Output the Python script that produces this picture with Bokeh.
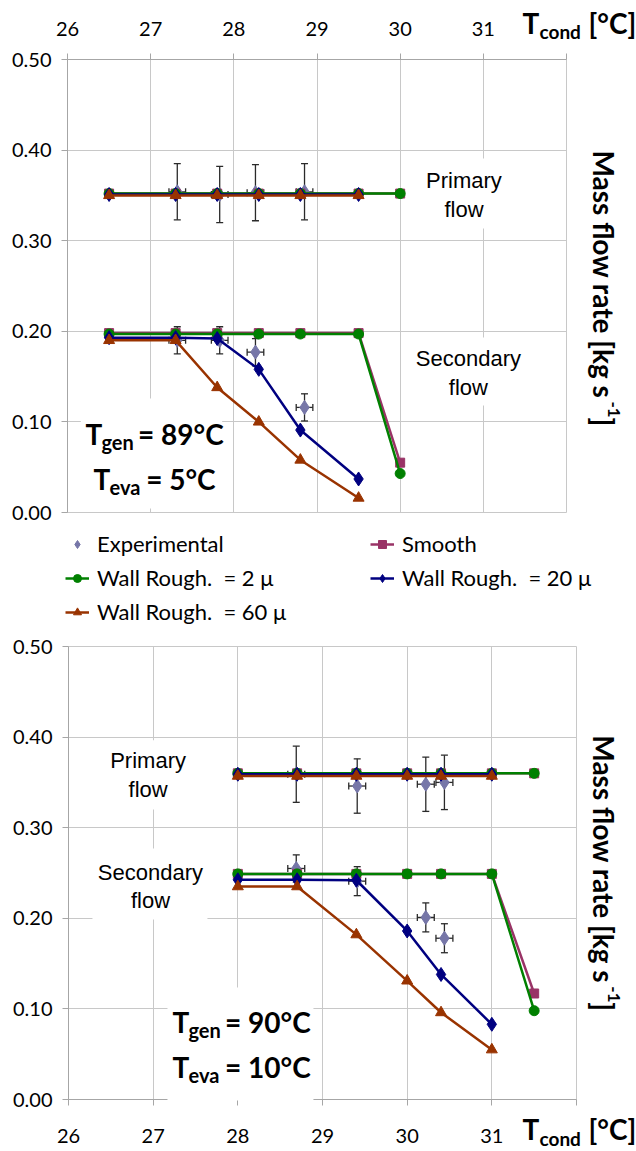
import math
from bokeh.plotting import figure
from bokeh.models import (Label, BoxAnnotation, Legend, LegendItem, FixedTicker, Range1d,
                          NumeralTickFormatter, ColumnDataSource, Grid)
from bokeh.layouts import column
from bokeh.embed import file_html
from bokeh.resources import INLINE

# ---------------- data : upper panel (T_gen = 89 °C, T_eva = 5 °C) ----------------
top_t_cond = [26.5, 27.3, 27.8, 28.3, 28.8, 29.5, 30.0]
top_primary_smooth = [0.352, 0.352, 0.352, 0.352, 0.352, 0.352, 0.352]
top_primary_wall2 = [0.352, 0.352, 0.352, 0.352, 0.352, 0.352, 0.352]
top_primary_wall20 = [0.351, 0.351, 0.351, 0.351, 0.351, 0.351]
top_primary_wall60 = [0.350, 0.350, 0.350, 0.350, 0.350, 0.350]
top_secondary_smooth = [0.198, 0.198, 0.198, 0.198, 0.198, 0.198, 0.055]
top_secondary_wall2 = [0.197, 0.197, 0.197, 0.197, 0.197, 0.197, 0.043]
top_secondary_wall20 = [0.193, 0.193, 0.192, 0.158, 0.091, 0.037]
top_secondary_wall60 = [0.190, 0.190, 0.138, 0.100, 0.058, 0.016]
top_exp_t = [27.32, 27.83, 28.26, 28.85]
top_exp_primary = [0.354, 0.351, 0.353, 0.354]
top_exp_secondary = [0.190, 0.190, 0.177, 0.116]
top_exp_primary_err = [0.031, 0.031, 0.031, 0.031]
top_exp_secondary_err = [0.015, 0.015, 0.015, 0.015]
top_exp_t_err = [0.1, 0.1, 0.1, 0.1]

# ---------------- data : lower panel (T_gen = 90 °C, T_eva = 10 °C) ----------------
bot_t_cond = [28.0, 28.7, 29.4, 30.0, 30.4, 31.0, 31.5]
bot_primary_smooth = [0.360, 0.360, 0.360, 0.360, 0.360, 0.360, 0.360]
bot_primary_wall2 = [0.360, 0.360, 0.360, 0.360, 0.360, 0.360, 0.360]
bot_primary_wall20 = [0.359, 0.359, 0.359, 0.359, 0.359, 0.359]
bot_primary_wall60 = [0.357, 0.357, 0.357, 0.357, 0.357, 0.357]
bot_secondary_smooth = [0.249, 0.249, 0.249, 0.249, 0.249, 0.249, 0.117]
bot_secondary_wall2 = [0.249, 0.249, 0.249, 0.249, 0.249, 0.249, 0.098]
bot_secondary_wall20 = [0.2425, 0.2425, 0.242, 0.186, 0.138, 0.083]
bot_secondary_wall60 = [0.235, 0.235, 0.182, 0.131, 0.096, 0.055]
bot_exp_t = [28.69, 29.41, 30.22, 30.44]
bot_exp_primary = [0.359, 0.346, 0.348, 0.350]
bot_exp_secondary = [0.255, 0.241, 0.201, 0.178]
bot_exp_primary_err = [0.031, 0.030, 0.030, 0.030]
bot_exp_secondary_err = [0.015, 0.016, 0.016, 0.016]
bot_exp_t_err = [0.1, 0.1, 0.1, 0.1]

# ---------------- axes ----------------
x_ticks = [26, 27, 28, 29, 30, 31, 32]
y_ticks = [0.0, 0.1, 0.2, 0.3, 0.4, 0.5]
X_BOUNDS = (26, 32)
Y_BOUNDS = (0.0, 0.5)

legend_labels = ["Experimental", "Smooth", "Wall Rough.\u00a0 = 2 \u03bc",
                 "Wall Rough.\u00a0 = 20 \u03bc", "Wall Rough.\u00a0 = 60 \u03bc"]

COL_EXP = "#7676A8"
COL_SMOOTH = "#993366"
COL_W2 = "#008000"
COL_W20 = "#000080"
COL_W60 = "#993300"
GRID = "#C8C8C8"
AXIS = "#A6A6A6"
FONT = "Lato"
HAS_CROSS = "cross_bounds" in Grid.properties()


def style(p, x_standoff):
    p.background_fill_color = "white"
    p.border_fill_color = "white"
    p.outline_line_color = None
    p.min_border = 0
    p.xaxis.fixed_location = Y_BOUNDS[1] if x_standoff < 0 else Y_BOUNDS[0]
    p.yaxis.fixed_location = X_BOUNDS[0]
    p.xaxis.bounds = X_BOUNDS
    p.yaxis.bounds = Y_BOUNDS
    p.xaxis.ticker = FixedTicker(ticks=x_ticks)
    p.yaxis.ticker = FixedTicker(ticks=y_ticks)
    p.yaxis.formatter = NumeralTickFormatter(format="0.00")
    p.xaxis.major_label_overrides = {32: ""}
    for ax in list(p.xaxis) + list(p.yaxis):
        ax.axis_line_color = AXIS
        ax.major_tick_line_color = AXIS
        ax.major_tick_out = 6
        ax.major_tick_in = 0
        ax.minor_tick_line_color = None
        ax.major_label_text_font = FONT
        ax.major_label_text_font_size = "20px"
        ax.major_label_text_color = "black"
    p.yaxis.major_label_standoff = 10
    p.xaxis.major_label_standoff = abs(x_standoff)
    if HAS_CROSS:
        p.xgrid.bounds = X_BOUNDS
        p.xgrid.cross_bounds = Y_BOUNDS
        p.ygrid.bounds = Y_BOUNDS
        p.ygrid.cross_bounds = X_BOUNDS
        p.xgrid.ticker = FixedTicker(ticks=x_ticks)
        p.ygrid.ticker = FixedTicker(ticks=y_ticks)
        p.xgrid.grid_line_color = GRID
        p.ygrid.grid_line_color = GRID
    else:
        p.xgrid.grid_line_color = None
        p.ygrid.grid_line_color = None
        p.segment(x0=x_ticks, y0=[Y_BOUNDS[0]] * len(x_ticks), x1=x_ticks,
                  y1=[Y_BOUNDS[1]] * len(x_ticks), line_color=GRID, line_width=1)
        p.segment(x0=[X_BOUNDS[0]] * len(y_ticks), y0=y_ticks, x1=[X_BOUNDS[1]] * len(y_ticks),
                  y1=y_ticks, line_color=GRID, line_width=1)


def experimental(p, t, y, yerr, terr):
    src = ColumnDataSource(dict(
        t=t, y=y,
        ylo=[a - b for a, b in zip(y, yerr)], yhi=[a + b for a, b in zip(y, yerr)],
        tlo=[a - b for a, b in zip(t, terr)], thi=[a + b for a, b in zip(t, terr)]))
    ec = "#2A2A2A"
    p.segment(x0="t", y0="ylo", x1="t", y1="yhi", source=src, line_color=ec, line_width=1.3)
    p.segment(x0="tlo", y0="y", x1="thi", y1="y", source=src, line_color=ec, line_width=1.3)
    p.scatter(x="t", y="ylo", source=src, marker="dash", size=7, line_color=ec, line_width=1.3)
    p.scatter(x="t", y="yhi", source=src, marker="dash", size=7, line_color=ec, line_width=1.3)
    p.scatter(x="tlo", y="y", source=src, marker="dash", size=7, angle=math.pi / 2, line_color=ec, line_width=1.3)
    p.scatter(x="thi", y="y", source=src, marker="dash", size=7, angle=math.pi / 2, line_color=ec, line_width=1.3)
    return p.scatter(x="t", y="y", source=src, marker="diamond", size=14,
                     fill_color=COL_EXP, line_color=COL_EXP)


def model(p, t, y, color, marker, size):
    xs = t[:len(y)]
    ln = p.line(xs, y, line_color=color, line_width=2.5)
    sc = p.scatter(xs, y, marker=marker, size=size, fill_color=color, line_color=color)
    return [ln, sc]


def label(p, x, y, text, size, dx=0, dy=0, bold=False, font=FONT, align="left",
          baseline="alphabetic", angle=0.0):
    p.add_layout(Label(x=x, y=y, x_offset=dx, y_offset=dy, text=text, text_font=font,
                       text_font_size=f"{size}px", text_font_style="bold" if bold else "normal",
                       text_align=align, text_baseline=baseline, angle=angle, text_color="black"))


def white_box(p, l, r, b, t):
    p.add_layout(BoxAnnotation(left=l, right=r, bottom=b, top=t, fill_color="white",
                               fill_alpha=1.0, line_color=None))


def panel(p, t, exp_t, exp_p, exp_s, exp_perr, exp_serr, exp_terr,
          ps, p2, p20, p60, ss, s2, s20, s60):
    e1 = experimental(p, exp_t, exp_p, exp_perr, exp_terr)
    experimental(p, exp_t, exp_s, exp_serr, exp_terr)
    r = {}
    r["smooth"] = model(p, t, ps, COL_SMOOTH, "square", 9)
    model(p, t, ss, COL_SMOOTH, "square", 9)
    r["w2"] = model(p, t, p2, COL_W2, "circle", 10)
    model(p, t, s2, COL_W2, "circle", 10)
    r["w20"] = model(p, t, p20, COL_W20, "diamond", 14)
    model(p, t, s20, COL_W20, "diamond", 14)
    r["w60"] = model(p, t, p60, COL_W60, "triangle", 11)
    model(p, t, s60, COL_W60, "triangle", 11)
    r["exp"] = [e1]
    return r


def rich_T(p, x, y, sub, rest):
    label(p, x, y, "T", 28, bold=True)
    label(p, x, y, sub, 20, dx=16, dy=-8, bold=True)
    label(p, x, y, "\u00a0" + rest, 28, dx=14 + 10.6 * len(sub), bold=True)


def t_cond(p, x, y):
    label(p, x, y, "T", 28, bold=True)
    label(p, x, y, "cond", 19, dx=17, dy=-9, bold=True)
    label(p, x, y, "[\u00b0C]", 28, dx=66, bold=True)


def side_title(p, x, y):
    ang = -math.pi / 2
    label(p, x, y, "Mass flow rate [kg s", 28, bold=True, angle=ang)
    label(p, x, y, "-1", 17, dx=10, dy=-251, bold=True, angle=ang)
    label(p, x, y, "]", 28, dy=-267, bold=True, angle=ang)


# ---------------- upper figure (frame = whole canvas; axes pinned in data space) ----------------
W = 636
H1 = 628
H2 = 522
p1 = figure(width=W, height=H1,
            x_range=Range1d(26 - 67 / 83.1667, 26 + (W - 67) / 83.1667),
            y_range=Range1d(-(H1 - 512) / 906.0, 0.5 + 59 / 906.0),
            x_axis_location="above", output_backend="svg", toolbar_location=None)
style(p1, -18)

white_box(p1, 30.24, 31.30, 0.3135, 0.3907)
white_box(p1, 30.12, 31.54, 0.1181, 0.1932)
white_box(p1, 26.16, 27.86, 0.0044, 0.1258)

r1 = panel(p1, top_t_cond, top_exp_t, top_exp_primary, top_exp_secondary,
           top_exp_primary_err, top_exp_secondary_err, top_exp_t_err,
           top_primary_smooth, top_primary_wall2, top_primary_wall20, top_primary_wall60,
           top_secondary_smooth, top_secondary_wall2, top_secondary_wall20, top_secondary_wall60)

label(p1, 30.767, 0.3664, "Primary", 22, font="Liberation Sans", align="center", baseline="middle")
label(p1, 30.767, 0.3344, "flow", 22, font="Liberation Sans", align="center", baseline="middle")
label(p1, 30.82, 0.170, "Secondary", 22, font="Liberation Sans", align="center", baseline="middle")
label(p1, 30.82, 0.138, "flow", 22, font="Liberation Sans", align="center", baseline="middle")

rich_T(p1, 26.216, 0.0861, "gen", "= 89\u00b0C")
rich_T(p1, 26.313, 0.0375, "eva", "= 5\u00b0C")

t_cond(p1, 31.471, 0.5408)
side_title(p1, 32.456, 0.3996)

legend = Legend(items=[
    LegendItem(label=legend_labels[0], renderers=r1["exp"]),
    LegendItem(label=legend_labels[1], renderers=r1["smooth"]),
    LegendItem(label=legend_labels[2], renderers=r1["w2"]),
    LegendItem(label=legend_labels[3], renderers=r1["w20"]),
    LegendItem(label=legend_labels[4], renderers=r1["w60"]),
], location=(65, 3), orientation="horizontal", ncols=2,
    label_text_font=FONT, label_text_font_size="22px", label_text_color="black",
    glyph_width=24, glyph_height=20, label_standoff=8, label_width=266, spacing=7,
    padding=0, margin=0, border_line_color=None, background_fill_alpha=0)
p1.add_layout(legend)

# ---------------- lower figure ----------------
p2 = figure(width=W, height=H2,
            x_range=Range1d(26 - 68 / 84.667, 26 + (W - 68) / 84.667),
            y_range=Range1d(-(H2 - 471) / 906.0, 0.5 + 18 / 906.0),
            output_backend="svg", toolbar_location=None)
style(p2, 23)

white_box(p2, 26.378, 27.523, 0.3202, 0.3965)
white_box(p2, 26.283, 27.641, 0.1988, 0.2771)
white_box(p2, 27.169, 28.893, -0.0012, 0.1235)

panel(p2, bot_t_cond, bot_exp_t, bot_exp_primary, bot_exp_secondary,
      bot_exp_primary_err, bot_exp_secondary_err, bot_exp_t_err,
      bot_primary_smooth, bot_primary_wall2, bot_primary_wall20, bot_primary_wall60,
      bot_secondary_smooth, bot_secondary_wall2, bot_secondary_wall20, bot_secondary_wall60)

label(p2, 26.94, 0.3744, "Primary", 22, font="Liberation Sans", align="center", baseline="middle")
label(p2, 26.94, 0.3423, "flow", 22, font="Liberation Sans", align="center", baseline="middle")
label(p2, 26.968, 0.2506, "Secondary", 22, font="Liberation Sans", align="center", baseline="middle")
label(p2, 26.968, 0.2197, "flow", 22, font="Liberation Sans", align="center", baseline="middle")

rich_T(p2, 27.228, 0.0850, "gen", "= 90\u00b0C")
rich_T(p2, 27.228, 0.0364, "eva", "= 10\u00b0C")

t_cond(p2, 31.362, -0.0331)
side_title(p2, 32.329, 0.402)

layout = column(p1, p2, spacing=0)
open("out.html", "w").write(file_html(layout, INLINE))
